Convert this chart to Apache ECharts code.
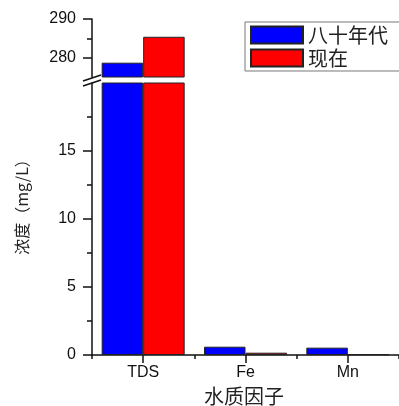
<!DOCTYPE html>
<html><head><meta charset="utf-8">
<script src="https://cdn.jsdelivr.net/npm/echarts@6/dist/echarts.min.js"></script>
<style>html,body{margin:0;padding:0;background:#fff}#c{width:399px;height:406px}</style>
</head><body><div id="c"></div>
<script>
// ---- data ----
const categories = ['TDS', 'Fe', 'Mn'];
const seriesNames = ['八十年代', '现在'];
const values80s = [278.7, 0.61, 0.54];
const valuesNow = [285.4, 0.17, 0.05];
const upperRange = [275, 290];
const lowerRange = [0, 20];
const upperTicks = [280, 290];
const upperMinor = [285];
const lowerTicks = [0, 5, 10, 15];
const lowerMinor = [2.5, 7.5, 12.5, 17.5];
const yTitle = '浓度（mg/L）';
const xTitle = '水质因子';

// ---- layout ----
const L = 92, W = 310.5;
const upTop = 19, upH = 58;
const lowTop = 83, lowH = 272;
const numFont = 'Liberation Sans, Arial, sans-serif';
const cjkFont = '"Noto Sans CJK SC", sans-serif';
const black = '#111';

function yMajor(grid, range, ticks, showLine) {
  return {
    type: 'value', gridIndex: grid, min: range[0], max: range[1], position: 'left',
    axisLine: { show: showLine, lineStyle: { color: black, width: 1.5 } },
    axisTick: { show: true, customValues: ticks, length: 9, lineStyle: { color: black, width: 1.5 } },
    axisLabel: { show: true, customValues: ticks, margin: 16, color: black, fontSize: 16, fontFamily: numFont },
    splitLine: { show: false }
  };
}
function yMinor(grid, range, ticks) {
  return {
    type: 'value', gridIndex: grid, min: range[0], max: range[1], position: 'left', offset: 0,
    axisLine: { show: false },
    axisTick: { show: true, customValues: ticks, length: 5, lineStyle: { color: black, width: 1.5 } },
    axisLabel: { show: false },
    splitLine: { show: false }
  };
}

const barStyle = (c) => ({ color: c, borderColor: '#222', borderWidth: 1 });
const colors = ['#0000ff', '#ff0000'];

const chart = echarts.init(document.getElementById('c'), null, { renderer: 'canvas' });
chart.setOption({
  animation: false,
  backgroundColor: '#fff',
  grid: [
    { left: L, top: upTop, width: W, height: upH },
    { left: L, top: lowTop, width: W, height: lowH }
  ],
  xAxis: [
    { type: 'category', gridIndex: 0, data: categories, show: false },
    {
      type: 'category', gridIndex: 1, data: categories, position: 'bottom',
      axisLine: { show: true, lineStyle: { color: black, width: 1.5 } },
      axisTick: { show: true, alignWithLabel: true, length: 8, lineStyle: { color: black, width: 1.5 } },
      axisLabel: { margin: 10, color: black, fontSize: 16, fontFamily: numFont },
      splitLine: { show: false }
    },
    {
      type: 'category', gridIndex: 1, data: categories, position: 'bottom', offset: 0,
      axisLine: { show: false },
      axisTick: { show: true, length: 4, lineStyle: { color: black, width: 1.5 } },
      axisLabel: { show: false },
      splitLine: { show: false }
    }
  ],
  yAxis: [
    yMajor(0, upperRange, upperTicks, true),
    yMinor(0, upperRange, upperMinor),
    yMajor(1, lowerRange, lowerTicks, true),
    yMinor(1, lowerRange, lowerMinor)
  ],
  legend: {
    orient: 'vertical', left: 245, top: 22,
    data: seriesNames,
    icon: 'rect', itemWidth: 52, itemHeight: 17, itemGap: 3,
    padding: [3, 20, 3, 5],
    borderColor: '#777', borderWidth: 1, backgroundColor: '#fff',
    textStyle: { fontSize: 20, color: '#222', fontFamily: cjkFont }
  },
  series: [
    { name: seriesNames[0], type: 'bar', xAxisIndex: 0, yAxisIndex: 0, data: values80s, barWidth: 41.5, barGap: '0%', clip: true, itemStyle: barStyle(colors[0]) },
    { name: seriesNames[1], type: 'bar', xAxisIndex: 0, yAxisIndex: 0, data: valuesNow, barWidth: 41.5, barGap: '0%', clip: true, itemStyle: barStyle(colors[1]) },
    { name: seriesNames[0], type: 'bar', xAxisIndex: 1, yAxisIndex: 2, data: values80s, barWidth: 41.5, barGap: '0%', clip: true, itemStyle: barStyle(colors[0]) },
    { name: seriesNames[1], type: 'bar', xAxisIndex: 1, yAxisIndex: 2, data: valuesNow, barWidth: 41.5, barGap: '0%', clip: true, itemStyle: barStyle(colors[1]) }
  ],
  graphic: [
    { type: 'line', shape: { x1: L - 9, y1: upTop + upH + 4, x2: L + 9, y2: upTop + upH - 2 }, style: { stroke: black, lineWidth: 1.5 }, z: 100 },
    { type: 'line', shape: { x1: L - 9, y1: lowTop + 3, x2: L + 9, y2: lowTop - 3 }, style: { stroke: black, lineWidth: 1.5 }, z: 100 },
    { type: 'text', x: 22, y: 203, rotation: Math.PI / 2, style: { text: yTitle, fontSize: 16, fill: '#222', fontFamily: cjkFont, align: 'center', verticalAlign: 'middle' } },
    { type: 'text', x: 244, y: 396, style: { text: xTitle, fontSize: 20, fill: '#222', fontFamily: cjkFont, align: 'center', verticalAlign: 'middle' } }
  ]
});
</script>
</body></html>
